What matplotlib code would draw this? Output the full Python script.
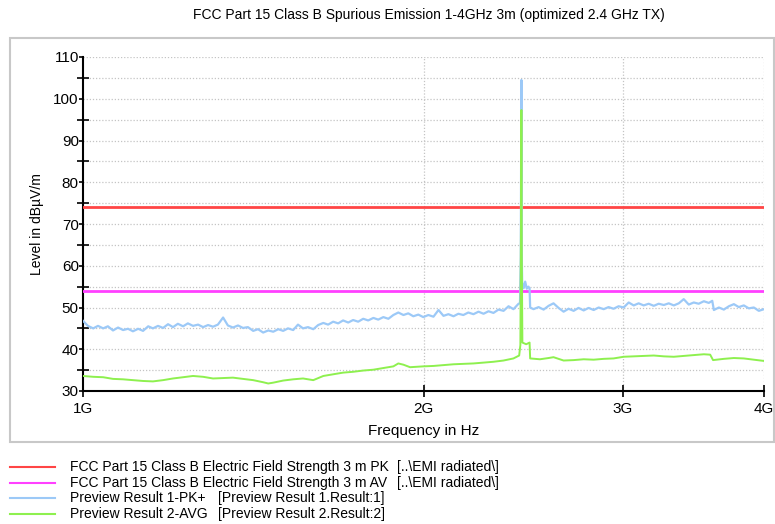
import matplotlib
matplotlib.use("Agg")
import matplotlib.pyplot as plt
from matplotlib.patches import Rectangle
from matplotlib.ticker import FixedLocator, FixedFormatter, NullLocator
import numpy as np

plt.rcParams['font.family'] = ['Liberation Sans', 'DejaVu Sans']

title = "FCC Part 15 Class B Spurious Emission 1-4GHz 3m (optimized 2.4 GHz TX)"
x_label = "Frequency in Hz"
y_label = "Level in dBµV/m"
x_ticks_hz = [1e9, 2e9, 3e9, 4e9]
x_tick_labels = ["1G", "2G", "3G", "4G"]
y_major = [30, 40, 50, 60, 70, 80, 90, 100, 110]
y_minor = [35, 45, 55, 65, 75, 85, 95, 105]

limit_pk = 74.0
limit_av = 54.0

# Preview Result 1-PK+ (frequency in MHz, level in dBuV/m)
pk_freq_mhz = [
    1000, 1010, 1021, 1031, 1042, 1052, 1063, 1074, 1085, 1096, 1107, 1119, 1130, 1142, 1153,
    1165, 1177, 1189, 1201, 1213, 1226, 1238, 1251, 1264, 1277, 1290, 1303, 1316, 1330, 1343,
    1357, 1371, 1385, 1399, 1414, 1428, 1443, 1458, 1473, 1488, 1503, 1518, 1534, 1549, 1565,
    1581, 1598, 1614, 1631, 1647, 1664, 1681, 1698, 1716, 1733, 1751, 1769, 1787, 1806, 1824,
    1843, 1862, 1881, 1900, 1920, 1939, 1959, 1979, 1999, 2020, 2041, 2062, 2083, 2104, 2126,
    2147, 2169, 2191, 2214, 2237, 2260, 2283, 2306, 2330, 2354, 2378, 2402, 2427,
    2434, 2438, 2440, 2441, 2442, 2443, 2445, 2452, 2460, 2468, 2476, 2482, 2485,
    2502, 2528, 2554, 2580, 2606, 2633, 2660, 2687, 2715, 2742, 2771, 2799, 2828, 2857, 2886,
    2915, 2945, 2975, 3006, 3037, 3068, 3099, 3131, 3163, 3196, 3228, 3262, 3295, 3329, 3363,
    3397, 3432, 3467, 3502, 3539, 3575, 3600, 3612, 3649, 3686, 3724, 3762, 3800, 3839, 3878,
    3918, 3958, 4000,
]
pk_level = [
    46.8, 45.6, 45.0, 45.6, 45.0, 45.5, 44.5, 45.2, 44.6, 44.9, 44.3, 44.9, 44.4, 45.5, 45.0,
    45.6, 45.1, 46.0, 45.3, 46.1, 45.5, 46.2, 45.6, 45.9, 45.3, 45.8, 45.4, 45.9, 47.6, 45.7,
    45.2, 45.7, 45.1, 45.3, 44.4, 44.8, 44.0, 44.5, 44.2, 44.8, 44.4, 45.0, 44.6, 45.9, 45.0,
    45.3, 44.8, 45.8, 46.3, 45.9, 46.6, 46.2, 46.9, 46.4, 47.0, 46.6, 47.3, 46.9, 47.5, 47.1,
    47.7, 47.3, 48.2, 48.8, 48.2, 48.6, 47.9, 48.3, 47.7, 48.2, 47.8, 49.4, 48.0, 48.4, 47.9,
    48.5, 48.2, 48.8, 48.4, 49.0, 48.5, 49.1, 48.7, 49.5, 49.2, 50.3, 49.6, 50.9,
    51.0, 62.0, 90.0, 104.5, 88.0, 62.0, 56.0, 54.6, 56.2, 54.5, 55.0, 54.6, 50.0,
    49.6, 50.1, 49.5, 50.4, 51.0, 49.9, 49.0, 49.7, 49.2, 49.9, 49.3, 49.9, 49.4, 50.0, 49.6,
    50.1, 49.7, 50.3, 50.0, 51.2, 50.5, 51.0, 50.5, 50.9, 50.4, 50.9, 50.6, 51.0, 50.5, 51.0,
    52.0, 50.7, 51.2, 50.9, 51.5, 51.1, 51.6, 49.4, 50.0, 49.5, 50.3, 50.8, 50.1, 50.5, 49.8,
    50.0, 49.2, 49.6,
]

# Preview Result 2-AVG
av_freq_mhz = [
    1000, 1021, 1042, 1063, 1085, 1107, 1130, 1153, 1177, 1201, 1226, 1251, 1277, 1303, 1330,
    1357, 1385, 1414, 1443, 1458, 1473, 1503, 1534, 1565, 1598, 1631, 1664, 1698, 1733, 1769,
    1806, 1843, 1881, 1900, 1920, 1946, 1999, 2041, 2083, 2126, 2169, 2214, 2260, 2306, 2354,
    2402, 2430, 2436, 2439, 2441, 2443, 2446, 2465, 2482, 2485,
    2535, 2580, 2606, 2660, 2715, 2771, 2828, 2886, 2945, 3006, 3068, 3131, 3196, 3262, 3329,
    3397, 3467, 3539, 3585, 3606, 3686, 3762, 3839, 3918, 4000,
]
av_level = [
    33.6, 33.4, 33.3, 32.9, 32.8, 32.6, 32.4, 32.3, 32.6, 33.0, 33.3, 33.6, 33.4, 33.0, 33.1,
    33.2, 32.9, 32.6, 32.1, 31.8, 32.0, 32.5, 32.8, 33.0, 32.6, 33.6, 34.0, 34.4, 34.6, 34.9,
    35.1, 35.5, 35.9, 36.6, 36.3, 35.7, 35.9, 36.0, 36.2, 36.4, 36.5, 36.6, 36.8, 37.0, 37.3,
    37.8, 38.5, 41.0, 70.0, 97.3, 62.0, 41.6, 41.2, 41.6, 37.8,
    37.6, 37.9, 38.1, 37.3, 37.4, 37.6, 37.5, 37.7, 37.8, 38.2, 38.3, 38.4, 38.5, 38.3, 38.2,
    38.4, 38.6, 38.8, 38.7, 37.4, 37.7, 37.9, 37.8, 37.5, 37.2,
]

legend_names = [
    "FCC Part 15 Class B Electric Field Strength 3 m PK",
    "FCC Part 15 Class B Electric Field Strength 3 m AV",
    "Preview Result 1-PK+",
    "Preview Result 2-AVG",
]
legend_sources = [
    "[..\\EMI radiated\\]",
    "[..\\EMI radiated\\]",
    "[Preview Result 1.Result:1]",
    "[Preview Result 2.Result:2]",
]

c_pk = "#ff4545"
c_av = "#ff40ff"
c_blue = "#9cc9f7"
c_green = "#8ef04f"
colors = [c_pk, c_av, c_blue, c_green]

W, H = 775, 524
fig = plt.figure(figsize=(W / 100, H / 100), dpi=100)

# frame
fig.patches.append(Rectangle((10 / W, 1 - 442 / H), (W - 11) / W, (442 - 38) / H,
                             transform=fig.transFigure, fill=False,
                             edgecolor="#c8c8c8", linewidth=1.5))

ax = fig.add_axes([83 / W, 1 - 391 / H, (764 - 83) / W, (391 - 57) / H])
ax.set_xscale("log")
ax.set_xlim(1e9, 4e9)
ax.set_ylim(30, 110)

ax.axhline(limit_pk, color=c_pk, lw=2, zorder=3)
ax.axhline(limit_av, color=c_av, lw=2, zorder=3)
ax.plot(np.array(pk_freq_mhz) * 1e6, pk_level, color=c_blue, lw=1.6, zorder=4)
ax.plot(np.array(av_freq_mhz) * 1e6, av_level, color=c_green, lw=1.4, zorder=5)

for s in ["top", "right"]:
    ax.spines[s].set_visible(False)
for s in ["left", "bottom"]:
    ax.spines[s].set_linewidth(1.5)

ax.xaxis.set_major_locator(FixedLocator(x_ticks_hz))
ax.xaxis.set_major_formatter(FixedFormatter(x_tick_labels))
ax.xaxis.set_minor_locator(NullLocator())
ax.yaxis.set_major_locator(FixedLocator(y_major))
ax.yaxis.set_minor_locator(FixedLocator(y_minor))
ax.tick_params(axis="x", which="major", direction="inout", length=8, width=1.2,
               labelsize=11, pad=4)
ax.tick_params(axis="y", which="major", direction="out", length=3, width=1.2,
               labelsize=11, pad=0)
ax.tick_params(axis="y", which="minor", direction="inout", length=8, width=1.2)

for yv in y_major + y_minor:
    ax.axhline(yv, color="#c4c4c4", lw=0.9, ls=(0, (1, 1.5)), zorder=1)
for xv in x_ticks_hz[1:]:
    ax.axvline(xv, color="#c4c4c4", lw=0.9, ls=(0, (1, 1.5)), zorder=1)

ax.set_xlabel(x_label, fontsize=11, labelpad=6)
ax.set_ylabel(y_label, fontsize=10, labelpad=7)

fig.text(429 / W, 1 - 15 / H, title, ha="center", va="center", fontsize=10)

# legend
ys = [467, 483, 498, 514]
for i in range(4):
    yy = 1 - ys[i] / H
    fig.add_artist(plt.Line2D([10 / W, 55 / W], [yy, yy], transform=fig.transFigure,
                              color=colors[i], lw=1.5))
    fig.text(70 / W, yy, legend_names[i], ha="left", va="center", fontsize=10)
xs_src = [397, 397, 218, 218]
for i in range(4):
    yy = 1 - ys[i] / H
    fig.text(xs_src[i] / W, yy, legend_sources[i], ha="left", va="center", fontsize=10)

fig.savefig("out.png", dpi=100)
